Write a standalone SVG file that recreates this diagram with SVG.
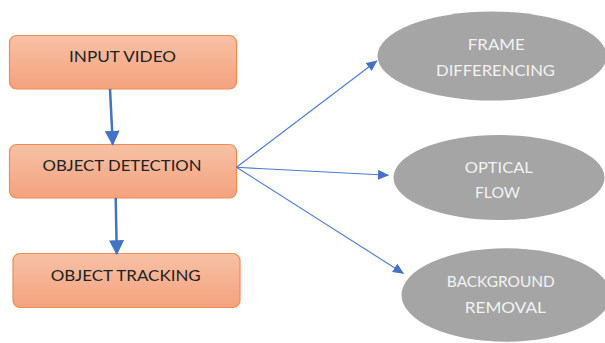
<svg xmlns="http://www.w3.org/2000/svg" width="605" height="343" viewBox="0 0 605 343">
<defs>
<linearGradient id="boxg" x1="0" y1="0" x2="0" y2="1">
<stop offset="0" stop-color="#f7c1a6"/>
<stop offset="1" stop-color="#f4a27e"/>
</linearGradient>
<marker id="bigHead" markerWidth="6" markerHeight="6" refX="5.5" refY="3" orient="auto" markerUnits="strokeWidth">
<path d="M0,0 L6,3 L0,6 Z" fill="#4472c4"/>
</marker>
<marker id="thinHead" markerWidth="11" markerHeight="10" refX="10.5" refY="5" orient="auto" markerUnits="userSpaceOnUse">
<path d="M0,0 L11,5 L0,10 Z" fill="#4472c4"/>
</marker>
</defs>
<style>
.box{fill:url(#boxg);stroke:#f08c50;stroke-width:1.2}
.btxt{font-family:Lato,"Liberation Sans",Arial,sans-serif;font-size:16px;fill:#222;text-anchor:middle}
.ell{fill:#a5a5a5}
.etxt{font-family:Lato,"Liberation Sans",Arial,sans-serif;font-size:16px;fill:#f2f2f2;text-anchor:middle}
.thick{stroke:#4472c4;stroke-width:2.5;fill:none;marker-end:url(#bigHead)}
.thin{stroke:#4a7bd0;stroke-width:1.1;fill:none;marker-end:url(#thinHead)}
</style>
<rect width="605" height="343" fill="#ffffff"/>
<g id="input-video">
<rect class="box" x="9.5" y="35.5" width="227" height="53.5" rx="7"/>
<text class="btxt" x="122.5" y="61.7" textLength="107" lengthAdjust="spacingAndGlyphs">INPUT VIDEO</text>
</g>
<g id="object-detection">
<rect class="box" x="9.5" y="144.5" width="227" height="53.5" rx="7"/>
<text class="btxt" x="122" y="171" textLength="159" lengthAdjust="spacingAndGlyphs">OBJECT DETECTION</text>
</g>
<g id="object-tracking">
<rect class="box" x="13" y="253.5" width="227" height="54" rx="7"/>
<text class="btxt" x="125.7" y="280.5" textLength="150" lengthAdjust="spacingAndGlyphs">OBJECT TRACKING</text>
</g>
<g id="frame-differencing">
<ellipse class="ell" cx="492" cy="56" rx="114.5" ry="44.5"/>
<text class="etxt" x="496.3" y="50" textLength="57" lengthAdjust="spacingAndGlyphs">FRAME</text>
<text class="etxt" x="495.5" y="76" textLength="119" lengthAdjust="spacingAndGlyphs">DIFFERENCING</text>
</g>
<g id="optical-flow">
<ellipse class="ell" cx="499" cy="177.5" rx="105.5" ry="42.5"/>
<text class="etxt" x="498.8" y="173" textLength="68" lengthAdjust="spacingAndGlyphs">OPTICAL</text>
<text class="etxt" x="497.5" y="197.7" textLength="45" lengthAdjust="spacingAndGlyphs">FLOW</text>
</g>
<g id="background-removal">
<ellipse class="ell" cx="506" cy="295" rx="104.5" ry="46.7"/>
<text class="etxt" x="500.8" y="286.7" textLength="108" lengthAdjust="spacingAndGlyphs">BACKGROUND</text>
<text class="etxt" x="505.3" y="312.5" textLength="81" lengthAdjust="spacingAndGlyphs">REMOVAL</text>
</g>
<g id="connectors">
<line class="thick" x1="110" y1="89" x2="112.8" y2="144.5"/>
<line class="thick" x1="115.7" y1="198" x2="116.8" y2="254"/>
<line class="thin" x1="236.5" y1="167.3" x2="377" y2="60.7"/>
<line class="thin" x1="236.5" y1="167.3" x2="388.5" y2="175.3"/>
<line class="thin" x1="236.5" y1="167.3" x2="403.5" y2="273.5"/>
</g>
</svg>
